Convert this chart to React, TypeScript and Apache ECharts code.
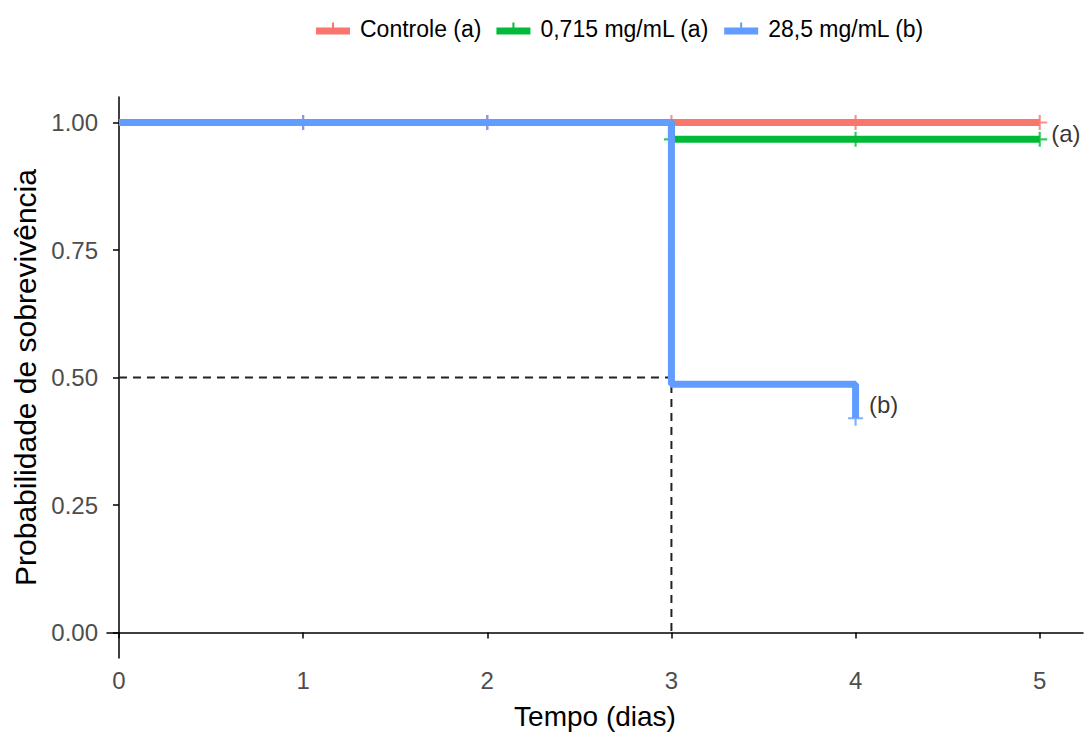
import React, { useEffect, useRef } from "react";
import * as echarts from "echarts";

// ---- data ----
const seriesNames = ["Controle (a)", "0,715 mg/mL (a)", "28,5 mg/mL (b)"];
const seriesColors = ["#F8766D", "#00BA38", "#619CFF"];

const controleTimes = [0, 5];
const controleSurv = [1, 1];
const controleCensorTimes = [1, 2, 3, 4, 5];
const controleCensorSurv = [1, 1, 1, 1, 1];

const midTimes = [0, 3, 5];
const midSurv = [1, 0.967, 0.967];
const midCensorTimes = [3, 4, 5];
const midCensorSurv = [0.967, 0.967, 0.967];

const highTimes = [0, 3, 4];
const highSurv = [1, 0.487, 0.42];
const highCensorTimes = [1, 2, 4];
const highCensorSurv = [1, 1, 0.42];

const medianX = [0, 3, 3];
const medianY = [0.5, 0.5, 0];

const xTicks = [0, 1, 2, 3, 4, 5];
const yTicks = [0, 0.25, 0.5, 0.75, 1];

const annotations = [
  { name: "(a)", x: 5.06, y: 0.978 },
  { name: "(b)", x: 4.07, y: 0.448 },
];

const FONT = "'Liberation Sans', Arial, sans-serif";

const CENSOR =
  "path://M0,6 L14,6 L14,8 L0,8 Z M6,0 L8,0 L8,14 L6,14 Z";
const LEGEND_ICON =
  "path://M0,6 L34,6 L34,13 L0,13 Z M16,1 L18,1 L18,6 L16,6 Z";

const zip = (xs: number[], ys: number[]) => xs.map((x, i) => [x, ys[i]]);

export default function App() {
  const ref = useRef<HTMLDivElement>(null);
  useEffect(() => {
    if (!ref.current) return;
    const chart = echarts.init(ref.current, null, { renderer: "svg" });
    const lineData = [
      zip(controleTimes, controleSurv),
      zip(midTimes, midSurv),
      zip(highTimes, highSurv),
    ];
    const censorData = [
      zip(controleCensorTimes, controleCensorSurv),
      zip(midCensorTimes, midCensorSurv),
      zip(highCensorTimes, highCensorSurv),
    ];
    const series: any[] = [
      {
        name: "mediana",
        type: "line",
        data: zip(medianX, medianY),
        symbol: "none",
        lineStyle: { color: "#222", width: 2, type: [8, 6] },
        z: 1,
      },
    ];
    seriesNames.forEach((n, i) => {
      series.push({
        name: n,
        type: "line",
        step: "end",
        data: lineData[i],
        symbol: "none",
        lineStyle: { color: seriesColors[i], width: 7 },
        itemStyle: { color: seriesColors[i] },
        z: 2 + i,
      });
    });
    seriesNames.forEach((n, i) => {
      series.push({
        name: n,
        type: "scatter",
        data: censorData[i],
        symbol: CENSOR,
        symbolSize: 15,
        itemStyle: { color: seriesColors[i] },
        z: 2 + i,
      });
    });
    series.push({
      name: "anot",
      type: "scatter",
      data: annotations.map((a) => ({ name: a.name, value: [a.x, a.y] })),
      symbolSize: 1,
      itemStyle: { color: "rgba(0,0,0,0)" },
      label: {
        show: true,
        position: "right",
        distance: 0,
        formatter: (p: any) => p.name,
        fontSize: 24,
        fontFamily: FONT,
        color: "#000",
      },
      z: 10,
    });

    chart.setOption({
      animation: false,
      backgroundColor: "#fff",
      legend: {
        data: seriesNames.map((n) => ({ name: n, icon: LEGEND_ICON })),
        left: 311,
        top: 12,
        itemWidth: 34,
        itemHeight: 14,
        itemGap: 15,
        textStyle: {
          fontSize: 23,
          fontFamily: FONT,
          color: "#000",
          padding: [0, 0, 0, 5],
        },
      },
      grid: { left: 107, right: 6, top: 97, bottom: 80 },
      xAxis: {
        type: "value",
        min: -0.065,
        max: 5.235,
        name: "Tempo (dias)",
        nameLocation: "middle",
        nameGap: 44,
        nameTextStyle: { fontSize: 28, fontFamily: FONT, color: "#000" },
        axisLine: { show: true, lineStyle: { color: "#000", width: 1.5 } },
        axisTick: {
          show: true,
          length: 6,
          customValues: xTicks,
          lineStyle: { color: "#000", width: 1.5 },
        },
        axisLabel: {
          customValues: xTicks,
          fontSize: 24,
          fontFamily: FONT,
          color: "#4D4D4D",
          margin: 10,
        },
        splitLine: { show: false },
      },
      yAxis: {
        type: "value",
        min: -0.05,
        max: 1.05,
        name: "Probabilidade de sobrevivência",
        nameLocation: "middle",
        nameGap: 66,
        nameTextStyle: { fontSize: 30, fontFamily: FONT, color: "#000" },
        axisLine: { show: true, lineStyle: { color: "#000", width: 1.5 } },
        axisTick: {
          show: true,
          length: 6,
          customValues: yTicks,
          lineStyle: { color: "#000", width: 1.5 },
        },
        axisLabel: {
          customValues: yTicks,
          formatter: (v: number) => v.toFixed(2),
          fontSize: 24,
          fontFamily: FONT,
          color: "#4D4D4D",
          margin: 9,
        },
        splitLine: { show: false },
      },
      series,
    });
    return () => chart.dispose();
  }, []);
  return (
    <div
      ref={ref}
      style={{ position: "absolute", left: 0, top: 0, width: 1089, height: 738 }}
    />
  );
}
